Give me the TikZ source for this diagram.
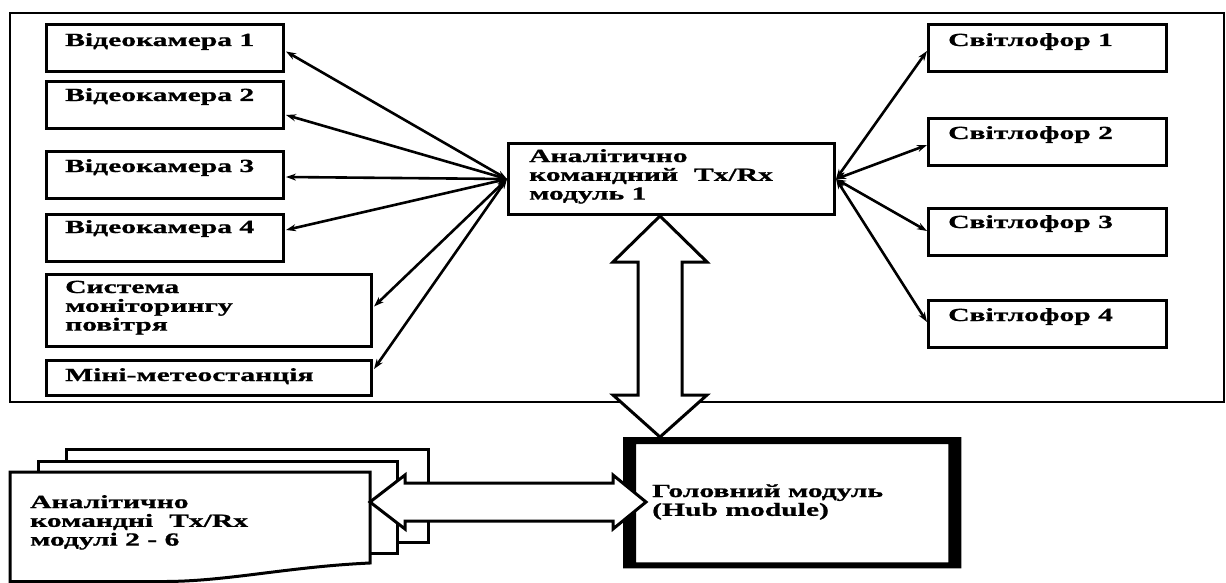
\documentclass[tikz,border=0pt]{standalone}
\usepackage{fontspec}
\setmainfont{Liberation Serif}
\newfontfamily\lblfam{Liberation Serif}[FakeStretch=1.6,FakeBold=1]
\usetikzlibrary{arrows.meta,calc}
\begin{document}
\begin{tikzpicture}[x=1pt,y=-1pt,
  box/.style={draw, line width=3pt, fill=white, inner sep=0pt, anchor=north west},
  lbl/.style={inner sep=0pt, anchor=base west, font=\lblfam\bfseries\fontsize{18.5}{18.8}\selectfont},
  conn/.style={line width=2.6pt, {Stealth[length=10pt,width=7pt]}-{Stealth[length=10pt,width=7pt]}},
  docline/.style={draw, line width=3pt, fill=white, line join=miter},
  blockarrow/.style={draw, line width=3pt, fill=white, line join=miter}
]
\useasboundingbox (0,0) rectangle (1226,583);
\fill[white] (0,0) rectangle (1226,583);

% outer frame
\draw[line width=2.8pt] (10,13) rectangle (1224,402);

% left boxes
\node[box, minimum width=237, minimum height=47] (v1) at (45,23) {};
\node[box, minimum width=237, minimum height=47] (v2) at (45,80) {};
\node[box, minimum width=237, minimum height=47] (v3) at (45,150) {};
\node[box, minimum width=237, minimum height=47] (v4) at (45,213) {};
\node[box, minimum width=325, minimum height=72] (air) at (45,273) {};
\node[box, minimum width=325, minimum height=35] (met) at (45,359) {};
\node[lbl] (tv1) at (65,46) {Відеокамера 1};
\node[lbl] (tv2) at (65,101) {Відеокамера 2};
\node[lbl] (tv3) at (65,172) {Відеокамера 3};
\node[lbl] (tv4) at (65,233) {Відеокамера 4};
\node[lbl] (tair) at (65,293) {\vtop{\hbox{Система}\hbox{моніторингу}\hbox{повітря}}};
\node[lbl] (tmet) at (65,381) {Міні-метеостанція};

% central module
\node[box, minimum width=326, minimum height=71] (c) at (507,142) {};
\node[lbl] (tc) at (529,162) {\vtop{\hbox{Аналітично}\hbox{командний\hspace{16pt}Tx/Rx}\hbox{модуль 1}}};

% traffic lights
\node[box, minimum width=238, minimum height=47] (s1) at (927,23) {};
\node[box, minimum width=238, minimum height=47] (s2) at (927,117) {};
\node[box, minimum width=238, minimum height=47] (s3) at (927,207) {};
\node[box, minimum width=238, minimum height=47] (s4) at (927,299) {};
\node[lbl] (ts1) at (948,46) {Світлофор 1};
\node[lbl] (ts2) at (948,139) {Світлофор 2};
\node[lbl] (ts3) at (948,228) {Світлофор 3};
\node[lbl] (ts4) at (948,321) {Світлофор 4};

% connectors left
\draw[conn] (c.west) -- ($(v1.east)+(1,3.5)$);
\draw[conn] (c.west) -- ($(v2.east)+(1,10)$);
\draw[conn] (c.west) -- ($(v3.east)+(1,2)$);
\draw[conn] (c.west) -- ($(v4.east)+(1,-8)$);
\draw[conn] (c.west) -- ($(air.east)+(1,-4)$);
\draw[conn] (c.west) -- ($(met.east)+(1,-9)$);
% connectors right
\draw[conn] (c.east) -- ($(s1.west)+(0,3)$);
\draw[conn] (c.east) -- ($(s2.west)+(0,3)$);
\draw[conn] (c.east) -- ($(s3.west)+(0,-1)$);
\draw[conn] (c.east) -- ($(s4.west)+(0,-2)$);

% hub module
\node[inner sep=0pt, anchor=north west, fill=white, minimum width=338, minimum height=131] (hub) at (623,437) {};
\fill[black, even odd rule] (hub.north west) rectangle (hub.south east)
  ($(hub.north west)+(13,7)$) rectangle ($(hub.south east)+(-13,-6)$);
\node[lbl] (th) at (652,497) {\vtop{\hbox{Головний модуль}\hbox{(Hub module)}}};

% stacked documents
\draw[docline] (66,449) -- (428,449) -- (428,542) -- (66,542) -- cycle;
\draw[docline] (38,461) -- (397,461) -- (397,553) -- (38,553) -- cycle;
\draw[docline] (10,472) -- (370,472) -- (370,563)
  .. controls (285,567) and (225,582) .. (160,581.5) -- (10,581.5) -- cycle;
\coordinate (docR) at (370,502);
\node[lbl] (td) at (30,508) {\vtop{\hbox{Аналітично}\hbox{командні\hspace{16pt}Tx/Rx}\hbox{модулі 2 - 6}}};

% vertical block double arrow
\coordinate (vx) at (660,0);
\coordinate (vt) at (vx |- c.south);
\coordinate (vb) at (vx |- hub.north);
\path[blockarrow] (vt) -- ($(vt)+(47,46)$) -- ($(vt)+(22,46)$) -- ($(vb)+(22,-42)$)
  -- ($(vb)+(47,-42)$) -- (vb) -- ($(vb)+(-47,-42)$) -- ($(vb)+(-22,-42)$)
  -- ($(vt)+(-22,46)$) -- ($(vt)+(-47,46)$) -- cycle;

% horizontal block double arrow
\coordinate (hr) at ($(hub.west |- docR)+(23,0)$);
\path[blockarrow] (docR) -- ($(docR)+(35,-27)$) -- ($(docR)+(35,-19)$) -- ($(hr)+(-33,-19)$)
  -- ($(hr)+(-33,-27)$) -- (hr) -- ($(hr)+(-33,27)$) -- ($(hr)+(-33,19)$)
  -- ($(docR)+(35,19)$) -- ($(docR)+(35,27)$) -- cycle;
\end{tikzpicture}
\end{document}
